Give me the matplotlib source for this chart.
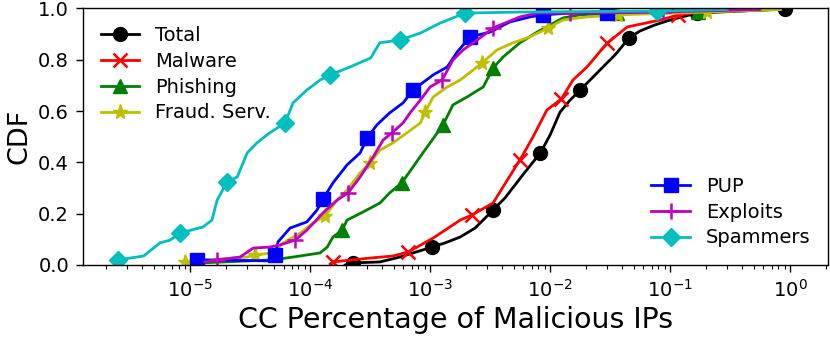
import matplotlib
matplotlib.use("Agg")
import matplotlib.pyplot as plt

# CDF curves (x = CC percentage, y = CDF)
total_x = [1.96e-4, 2.28e-4, 3.83e-4, 5.6e-4, 1.04e-3, 1.33e-3, 1.78e-3, 2.37e-3, 3.35e-3,
           4.2e-3, 5.1e-3, 6.2e-3, 8.3e-3, 1.0e-2, 1.21e-2, 1.47e-2, 1.78e-2, 2.24e-2,
           2.87e-2, 3.48e-2, 4.55e-2, 5.6e-2, 7.5e-2, 0.1, 0.168, 0.26, 0.91]
total_y = [0.0, 0.008, 0.012, 0.031, 0.07, 0.086, 0.109, 0.144, 0.214,
           0.261, 0.312, 0.363, 0.437, 0.507, 0.596, 0.643, 0.682, 0.729,
           0.78, 0.819, 0.885, 0.912, 0.936, 0.955, 0.982, 0.986, 0.998]
total_marks = [1, 4, 8, 12, 16, 20, 24, 26]

malware_x = [1.47e-4, 1.55e-4, 3.16e-4, 4.9e-4, 6.6e-4, 1.06e-3, 1.78e-3, 2.24e-3, 3.35e-3,
             4.4e-3, 5.6e-3, 7.2e-3, 9.4e-3, 1.24e-2, 1.55e-2, 2.03e-2, 2.99e-2, 4.4e-2,
             8.3e-2, 0.117, 0.178, 0.64]
malware_y = [0.004, 0.012, 0.027, 0.035, 0.051, 0.105, 0.175, 0.195, 0.242,
             0.331, 0.409, 0.499, 0.604, 0.647, 0.721, 0.772, 0.865, 0.928,
             0.955, 0.975, 0.986, 0.996]
malware_marks = [1, 4, 7, 10, 13, 16, 19]

phishing_x = [1.21e-5, 4.9e-5, 7.2e-5, 1.21e-4, 1.39e-4, 1.55e-4, 1.85e-4, 2.03e-4, 2.77e-4,
              3.83e-4, 4.6e-4, 5.8e-4, 7.2e-4, 8.7e-4, 1.04e-3, 1.28e-3, 1.55e-3, 2.03e-3,
              2.77e-3, 3.35e-3, 4.06e-3, 5.6e-3, 7.8e-3, 1.0e-2, 1.28e-2, 1.78e-2, 3.6e-2,
              0.171, 0.83]
phishing_y = [0.008, 0.02, 0.031, 0.047, 0.07, 0.109, 0.136, 0.175, 0.207,
              0.242, 0.281, 0.32, 0.382, 0.437, 0.487, 0.546, 0.624, 0.655,
              0.694, 0.768, 0.811, 0.866, 0.908, 0.936, 0.963, 0.975, 0.982,
              0.986, 0.996]
phishing_marks = [6, 11, 15, 19, 26, 27]

fraud_x = [9.1e-6, 1.47e-5, 2.99e-5, 3.48e-5, 4.9e-5, 5.96e-5, 8.3e-5, 1.06e-4, 1.33e-4,
           1.68e-4, 2.03e-4, 2.61e-4, 3.16e-4, 3.83e-4, 4.9e-4, 6.4e-4, 8.3e-4, 9.1e-4,
           1.06e-3, 1.39e-3, 1.78e-3, 2.28e-3, 2.71e-3, 3.6e-3, 4.9e-3, 6.8e-3, 9.6e-3,
           1.28e-2, 2.03e-2, 3.7e-2, 0.203, 0.83]
fraud_y = [0.012, 0.02, 0.031, 0.039, 0.047, 0.086, 0.125, 0.164, 0.191,
           0.253, 0.292, 0.359, 0.398, 0.448, 0.476, 0.515, 0.554, 0.596,
           0.655, 0.694, 0.721, 0.76, 0.788, 0.838, 0.866, 0.889, 0.924,
           0.955, 0.967, 0.975, 0.986, 0.996]
fraud_marks = [0, 3, 8, 12, 17, 22, 26, 29, 30]

pup_x = [1.14e-5, 4.9e-5, 5.1e-5, 5.4e-5, 6.8e-5, 9.4e-5, 1.14e-4, 1.28e-4, 1.55e-4,
         2.03e-4, 2.61e-4, 2.99e-4, 3.6e-4, 4.6e-4, 5.96e-4, 7.2e-4, 1.06e-3, 1.39e-3,
         1.68e-3, 2.15e-3, 3.16e-3, 4.6e-3, 6.8e-3, 8.7e-3, 1.47e-2, 2.99e-2, 0.178]
pup_y = [0.02, 0.016, 0.039, 0.09, 0.144, 0.168, 0.214, 0.257, 0.32,
         0.39, 0.437, 0.495, 0.546, 0.593, 0.632, 0.682, 0.741, 0.772,
         0.83, 0.889, 0.908, 0.947, 0.967, 0.975, 0.982, 0.982, 0.994]
pup_marks = [0, 2, 7, 11, 15, 19, 23, 25]

exploits_x = [1.33e-5, 1.68e-5, 2.61e-5, 3.35e-5, 4.6e-5, 5.6e-5, 7.5e-5, 9.4e-5, 1.28e-4,
              1.68e-4, 2.07e-4, 2.61e-4, 3.35e-4, 4.06e-4, 4.8e-4, 5.96e-4, 6.8e-4, 8.3e-4,
              1.0e-3, 1.26e-3, 1.55e-3, 1.88e-3, 2.47e-3, 3.35e-3, 4.4e-3, 5.6e-3, 7.8e-3,
              1.47e-2, 8.7e-2, 0.56]
exploits_y = [0.012, 0.02, 0.031, 0.066, 0.07, 0.078, 0.097, 0.136, 0.203,
              0.253, 0.281, 0.343, 0.421, 0.487, 0.515, 0.554, 0.593, 0.643,
              0.694, 0.721, 0.799, 0.838, 0.877, 0.924, 0.947, 0.967, 0.982,
              0.982, 0.986, 0.996]
exploits_marks = [1, 6, 10, 14, 19, 23, 27, 28]

spam_x = [2.5e-6, 4.1e-6, 5.6e-6, 6.8e-6, 8.3e-6, 1.28e-5, 1.52e-5, 1.68e-5, 2.03e-5,
          2.47e-5, 2.99e-5, 3.6e-5, 4.6e-5, 6.2e-5, 7.2e-5, 9.4e-5, 1.21e-4, 1.47e-4,
          2.15e-4, 3.2e-4, 3.8e-4, 5.6e-4, 8.3e-4, 1.21e-3, 1.96e-3, 5.6e-3, 7.8e-2, 0.3]
spam_y = [0.02, 0.035, 0.086, 0.097, 0.125, 0.148, 0.175, 0.253, 0.324,
          0.343, 0.437, 0.476, 0.515, 0.554, 0.632, 0.682, 0.721, 0.741,
          0.772, 0.807, 0.866, 0.877, 0.904, 0.943, 0.982, 0.986, 0.99, 0.996]
spam_marks = [0, 4, 8, 13, 17, 21, 24, 26]

x_ticks = [1e-5, 1e-4, 1e-3, 1e-2, 1e-1, 1e0]

fig = plt.figure(figsize=(8.3, 3.38), dpi=100)
ax = fig.add_axes([0.1, 0.216, 0.8976, 0.759])

lw = 2.0
l1, = ax.plot(total_x, total_y, 'k-', marker='o', ms=10, lw=lw, markevery=total_marks, label='Total')
l2, = ax.plot(malware_x, malware_y, 'r-', marker='x', ms=10, mew=1.8, lw=lw, markevery=malware_marks, label='Malware')
l3, = ax.plot(phishing_x, phishing_y, 'g-', marker='^', ms=10, lw=lw, markevery=phishing_marks, label='Phishing')
l4, = ax.plot(fraud_x, fraud_y, 'y-', marker='*', ms=11, lw=lw, markevery=fraud_marks, label='Fraud. Serv.')
l5, = ax.plot(pup_x, pup_y, 'b-', marker='s', ms=10, lw=lw, markevery=pup_marks, label='PUP')
l6, = ax.plot(exploits_x, exploits_y, 'm-', marker='+', ms=11, mew=1.8, lw=lw, markevery=exploits_marks, label='Exploits')
l7, = ax.plot(spam_x, spam_y, 'c-', marker='D', ms=9, lw=lw, markevery=spam_marks, label='Spammers')

ax.set_xscale('log')
ax.set_xlim(1.28e-6, 2.07)
ax.set_xticks(x_ticks)
ax.set_ylim(0, 1)
ax.tick_params(labelsize=14, length=5, width=1, pad=5)
ax.tick_params(which='minor', length=3, width=0.8)
for s in ax.spines.values():
    s.set_linewidth(1.0)
ax.set_xlabel('CC Percentage of Malicious IPs', fontsize=20.5, labelpad=4)
ax.set_ylabel('CDF', fontsize=19.5)

leg1 = ax.legend(handles=[l1, l2, l3, l4], loc='upper left', frameon=False,
                 fontsize=14, labelspacing=0.35)
ax.add_artist(leg1)
ax.legend(handles=[l5, l6, l7], loc='lower right', frameon=False,
          fontsize=14, labelspacing=0.35)

fig.savefig('out.png', dpi=100)
